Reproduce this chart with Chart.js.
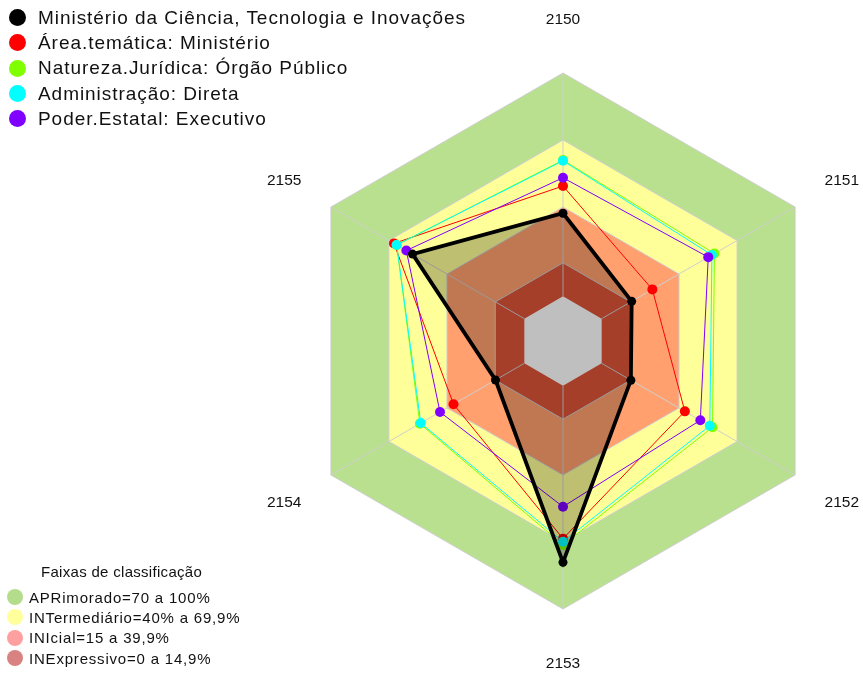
<!DOCTYPE html>
<html lang="pt">
<head>
  <meta charset="UTF-8">
  <title>Radar - Faixas de classificação</title>
  <script src="https://cdn.jsdelivr.net/npm/chart.js"></script>
  <style>
    body { margin: 0; background: #fff; overflow: hidden; font-family: Arial, "Liberation Sans", sans-serif; color: #111; }
    #wrap { position: absolute; left: 0; top: 0; width: 863px; height: 673px; }
    .leg { position: absolute; }
    .row { display: flex; align-items: center; white-space: nowrap; }
    .dot { border-radius: 50%; flex: none; }
    #legTop { left: 9px; top: 5px; font-size: 19px; letter-spacing: 0.95px; }
    #legTop .row { height: 25.3px; }
    #legTop .dot { width: 17px; height: 17px; margin-right: 12px; }
    #legBottom { left: 7px; top: 561px; font-size: 15px; letter-spacing: 0.8px; }
    #legBottom .title { padding-left: 34px; height: 26px; line-height: 22px; letter-spacing: 0.3px; }
    #legBottom .row { height: 20.3px; }
    #legBottom .dot { width: 16px; height: 16px; margin-right: 6px; }
  </style>
</head>
<body>
  <div id="wrap"><canvas id="chart"></canvas></div>
  <div id="legTop" class="leg"></div>
  <div id="legBottom" class="leg"><div class="title">Faixas de classificação</div></div>

  <script>
    // eixos (programas)
    const labels = ['2150', '2151', '2152', '2153', '2154', '2155'];

    // séries
    const seriesNames = [
      'Ministério da Ciência, Tecnologia e Inovações',
      'Área.temática: Ministério',
      'Natureza.Jurídica: Órgão Público',
      'Administração: Direta',
      'Poder.Estatal: Executivo'
    ];
    const seriesColors = ['#000000', '#ff0000', '#80ff00', '#00ffff', '#8000ff'];
    const ministerio       = [37.2, 15.5, 15.1, 79.1, 14.9, 57.8];
    const areaTematica     = [49.4, 26.2, 43.0, 68.5, 36.6, 67.4];
    const naturezaJuridica = [61.0, 58.3, 57.3, 71.3, 54.0, 66.0];
    const administracao    = [60.7, 57.0, 55.9, 69.9, 53.5, 66.0];
    const poderEstatal     = [53.1, 55.1, 51.0, 54.2, 43.6, 61.0];
    const seriesData = [ministerio, areaTematica, naturezaJuridica, administracao, poderEstatal];

    // faixas de classificação
    const bandNames = ['APRimorado=70 a 100%', 'INTermediário=40% a 69,9%', 'INIcial=15 a 39,9%', 'INExpressivo=0 a 14,9%'];
    const bandLimits = [100, 70, 40, 15, 0];
    const bandColors = ['#b8e08e', '#ffff99', '#ffa06e', '#dd5438', '#ffffff'];
    const bandLegendColors = ['#b3dd8a', '#ffff9c', '#ffa0a0', '#d88282'];

    const SCALE_MIN = -20, SCALE_MAX = 100;

    // legendas em HTML
    const legTop = document.getElementById('legTop');
    seriesNames.forEach((name, i) => {
      const row = document.createElement('div');
      row.className = 'row';
      row.innerHTML = `<span class="dot" style="background:${seriesColors[i]}"></span><span>${name}</span>`;
      legTop.appendChild(row);
    });
    const legBottom = document.getElementById('legBottom');
    bandNames.forEach((name, i) => {
      const row = document.createElement('div');
      row.className = 'row';
      row.innerHTML = `<span class="dot" style="background:${bandLegendColors[i]}"></span><span>${name}</span>`;
      legBottom.appendChild(row);
    });

    const datasets = [];
    const drawOrder = [0, 4, 3, 2, 1]; // preto por cima
    seriesData.forEach((data, i) => {
      const black = i === 0;
      datasets.push({
        label: seriesNames[i],
        data: data,
        borderColor: seriesColors[i],
        backgroundColor: black ? 'rgba(0,0,0,0.25)' : seriesColors[i],
        fill: black ? 'start' : false,
        borderWidth: black ? 3.8 : 1,
        pointRadius: black ? 4.5 : 5,
        pointBorderWidth: 0,
        pointBackgroundColor: seriesColors[i],
        order: drawOrder[i]
      });
    });
    bandLimits.forEach((lim, i) => {
      datasets.push({
        label: 'faixa ' + lim,
        data: labels.map(() => lim),
        borderColor: lim === 0 ? 'rgba(0,0,0,0)' : '#cfcfcf',
        borderWidth: 1,
        backgroundColor: bandColors[i],
        fill: 'start',
        pointRadius: 0,
        order: 10 + (bandLimits.length - i)
      });
    });
    const centerIndex = datasets.length - 1;

    // raios e rótulos dos eixos
    const spokes = {
      id: 'spokes',
      afterDatasetDraw(chart, args) {
        if (args.index !== centerIndex) return;
        const r = chart.scales.r, ctx = chart.ctx;
        ctx.save();
        ctx.strokeStyle = '#cfcfcf';
        ctx.lineWidth = 1;
        labels.forEach((_, i) => {
          const a = r.getPointPositionForValue(i, 0);
          const b = r.getPointPositionForValue(i, SCALE_MAX);
          ctx.beginPath();
          ctx.moveTo(a.x, a.y);
          ctx.lineTo(b.x, b.y);
          ctx.stroke();
        });
        ctx.restore();
      },
      afterDraw(chart) {
        const r = chart.scales.r, ctx = chart.ctx;
        ctx.save();
        ctx.font = '15.5px Arial, "Liberation Sans", sans-serif';
        ctx.fillStyle = '#111';
        ctx.textAlign = 'center';
        ctx.textBaseline = 'middle';
        labels.forEach((lab, i) => {
          const p = r.getPointPosition(i, r.drawingArea + 54);
          ctx.fillText(lab, p.x, p.y + 1);
        });
        ctx.restore();
      }
    };

    new Chart(document.getElementById('chart'), {
      type: 'radar',
      data: { labels: labels, datasets: datasets },
      options: {
        responsive: true,
        maintainAspectRatio: false,
        animation: false,
        events: [],
        layout: { padding: { left: 295, right: 32, top: 73, bottom: 64 } },
        elements: { line: { tension: 0 } },
        scales: {
          r: {
            min: SCALE_MIN,
            max: SCALE_MAX,
            ticks: { display: false },
            grid: { display: false },
            angleLines: { display: false },
            pointLabels: { display: false }
          }
        },
        plugins: {
          legend: { display: false },
          tooltip: { enabled: false }
        }
      },
      plugins: [spokes]
    });
  </script>
</body>
</html>
